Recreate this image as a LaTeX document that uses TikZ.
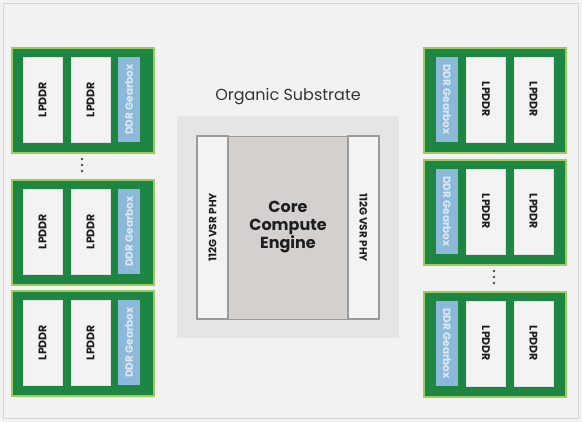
\documentclass[tikz,border=0pt]{standalone}
\usepackage{fontspec}
\setmainfont{Poppins}
\definecolor{bgc}{HTML}{F2F2F2}
\definecolor{bordc}{HTML}{D6D6D6}
\definecolor{ltgreen}{HTML}{9CCC5C}
\definecolor{dkgreen}{HTML}{1F8543}
\definecolor{gearc}{HTML}{8CB9DA}
\definecolor{geartxt}{HTML}{DCE9F3}
\definecolor{lpfill}{HTML}{F3F3F3}
\definecolor{subc}{HTML}{E5E5E5}
\definecolor{diebord}{HTML}{9A9A9A}
\definecolor{corec}{HTML}{D4D0CD}
\definecolor{txtc}{HTML}{1E1E1E}
\begin{document}
\begin{tikzpicture}[x=1pt,y=-1pt,
  module/.style={draw=ltgreen, fill=dkgreen, line width=2pt, inner sep=0pt,
    minimum width=142pt, minimum height=105pt, anchor=north west},
  lpbox/.style={draw=lpfill!85!gray, line width=0.4pt, fill=lpfill, inner sep=0pt,
    minimum width=85pt, minimum height=39pt, text=txtc,
    font=\bfseries\fontsize{11}{13}\selectfont},
  gearbox/.style={fill=gearc, inner sep=0pt,
    minimum width=85pt, minimum height=22pt, text=geartxt,
    font=\bfseries\fontsize{10.5}{12}\selectfont},
  phy/.style={draw=diebord, line width=1.2pt, fill=lpfill, inner sep=0pt,
    text=txtc, font=\bfseries\fontsize{10.5}{12}\selectfont},
  dot/.style={fill=txtc!80!white}
]
\useasboundingbox (0,0) rectangle (582,422);
\fill[bgc] (0,0) rectangle (582,422);
\draw[bordc, line width=1pt] (3.5,3.5) rectangle (578.5,418.5);

% left modules
\foreach \n/\t in {1/47, 2/179, 3/290}{
  \node[module] (L\n) at (11,\t) {};
  \node[lpbox, rotate=90] (L\n a) at (42.5,\t+52.5) {LPDDR};
  \node[lpbox, rotate=90] (L\n b) at (90.5,\t+52.5) {LPDDR};
  \node[gearbox, rotate=90] (L\n g) at (129,\t+52.5) {DDR Gearbox};
}
% right modules
\foreach \n/\t in {1/47, 2/159, 3/291}{
  \node[module] (R\n) at (423,\t) {};
  \node[gearbox, rotate=-90] (R\n g) at (447,\t+52.5) {DDR Gearbox};
  \node[lpbox, rotate=-90] (R\n a) at (486,\t+52.5) {LPDDR};
  \node[lpbox, rotate=-90] (R\n b) at (533.5,\t+52.5) {LPDDR};
}
% dots
\foreach \y in {159,165,171} \fill[dot] (82,\y) circle (1.3pt);
\foreach \y in {271,277,283} \fill[dot] (494,\y) circle (1.3pt);

% substrate
\node[fill=subc, inner sep=0pt, minimum width=222pt, minimum height=222pt, anchor=north west] (sub) at (177,116) {};
\node[text=txtc!90!white, font=\fontsize{16}{19}\selectfont] (title) at (288,97) {Organic Substrate};
\node[draw=diebord, line width=1.2pt, fill=corec, inner sep=0pt, minimum width=182pt, minimum height=183pt, anchor=north west] (die) at (197,136) {};
\node[phy, rotate=90, minimum width=183pt, minimum height=31pt] (phyL) at (212.5,227.5) {112G VSR PHY};
\node[phy, rotate=-90, minimum width=183pt, minimum height=31pt] (phyR) at (363.5,227.5) {112G VSR PHY};
\node[align=center, text=txtc, font=\bfseries\fontsize{16}{18}\selectfont] (core) at (288,227) {Core\\Compute\\Engine};
\end{tikzpicture}
\end{document}
